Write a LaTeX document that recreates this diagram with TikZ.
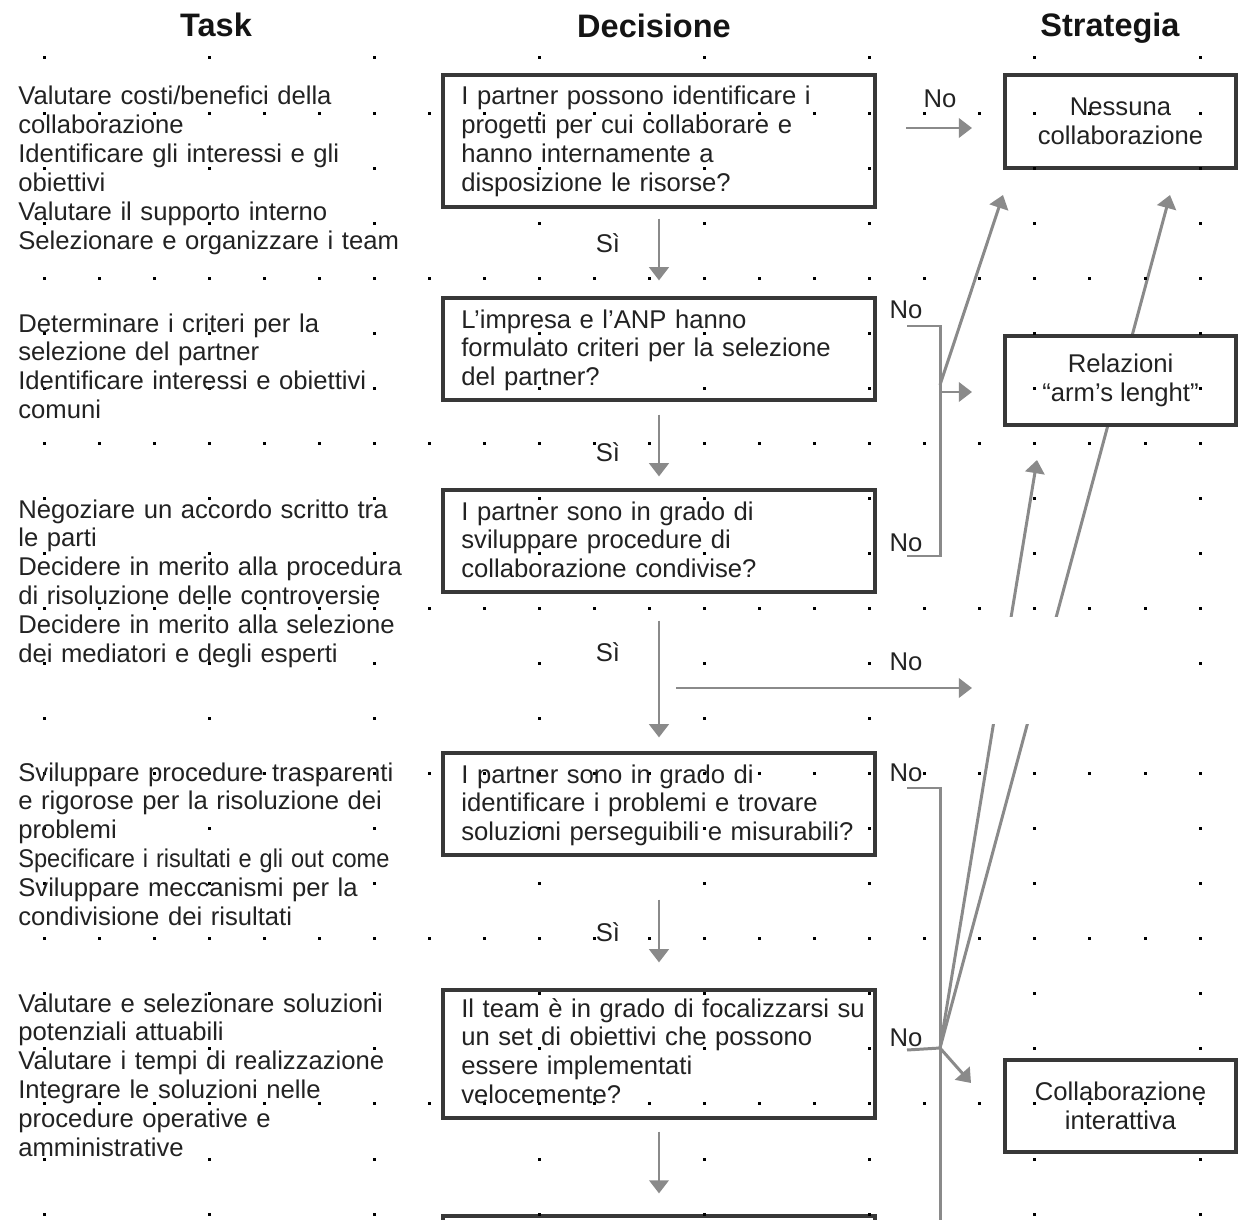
\documentclass[tikz,border=0pt]{standalone}
\usepackage{fontspec}
\setmainfont{Liberation Sans}
\usetikzlibrary{arrows.meta,calc}
\definecolor{txt}{HTML}{222222}
\definecolor{conncol}{HTML}{8A8A8A}
\definecolor{bord}{HTML}{383838}
\def\pxu{0.02cm}
\begin{document}
\begin{tikzpicture}[x=0.02cm,y=-0.02cm,
  body/.style={font=\fontsize{14.6}{16.44}\selectfont, text=txt, inner sep=0pt, anchor=base west, align=left, text width=10cm},
  lab/.style={font=\fontsize{14.6}{16.44}\selectfont, text=txt, inner sep=0pt},
  stxt/.style={font=\fontsize{14.6}{16.44}\selectfont, text=txt, align=center},
  hdr/.style={font=\bfseries\fontsize{18.5}{22}\selectfont, text=black!92, inner sep=0pt, anchor=base},
  dbox/.style={draw=bord, line width=1.8pt, fill=white, inner sep=0pt},
  conn/.style={draw=conncol, line width=1.7pt},
  arr/.style={conn, -{Triangle[length=7.5pt,width=11pt]}},
  dot/.style={fill=black}
]
\useasboundingbox (0,0) rectangle (1238,1220);
\clip (0,0) rectangle (1238,1220);

% coordinates for connectors
\coordinate (n1a) at (906,128);
\coordinate (n1b) at (972,128);
\coordinate (br2a) at (907,326);
\coordinate (br2c) at (907,556);
\coordinate (br2v) at (940,392);
\coordinate (br2t) at (972,392);
\coordinate (br2d) at (940,385);
\coordinate (s1tipA) at (1003,195);
\coordinate (n3a) at (676,688);
\coordinate (n3b) at (972,688);
\coordinate (br4a) at (907,788);
\coordinate (br4k) at (940,788);
\coordinate (br4end) at (940,1240);
\coordinate (br5a) at (907,1050);
\coordinate (hub) at (940,1048);
\coordinate (s3tip) at (971,1083);
\coordinate (s2tip) at (1037,460);
\coordinate (s1tipB) at (1170,195);

% connectors
\draw[arr] (hub) -- (s2tip);
\draw[arr] (hub) -- (s1tipB);
\draw[arr] (hub) -- (s3tip);
\draw[conn] (br5a) -- (hub);
\draw[conn] (br4a) -- (br4k) -- (br4end);
\draw[arr] (n3a) -- (n3b);
\draw[conn] (br2a) -| (br2c -| br2v) -- (br2c);
\draw[arr] (br2v) -- (br2t);
\draw[arr] (br2d) -- (s1tipA);
\draw[arr] (n1a) -- (n1b);

% decision boxes
\node[dbox, minimum width=432*\pxu, minimum height=132*\pxu] (b1) at (659,141) {};
\node[dbox, minimum width=432*\pxu, minimum height=102*\pxu] (b2) at (659,349) {};
\node[dbox, minimum width=432*\pxu, minimum height=102*\pxu] (b3) at (659,541) {};
\node[dbox, minimum width=432*\pxu, minimum height=102*\pxu] (b4) at (659,804) {};
\node[dbox, minimum width=432*\pxu, minimum height=128*\pxu] (b5) at (659,1054) {};
\node[dbox, minimum width=432*\pxu, minimum height=104*\pxu] (b6) at (659,1268) {};

% strategy boxes
\node[dbox, minimum width=231*\pxu, minimum height=93*\pxu] (s1) at (1120.5,121.5) {};
\node[dbox, minimum width=231*\pxu, minimum height=89*\pxu] (s2) at (1120.5,380.5) {};
\node[dbox, minimum width=231*\pxu, minimum height=92*\pxu] (s3) at (1120.5,1106) {};

% yes arrows
\draw[arr, shorten <=10*\pxu, shorten >=16*\pxu] (b1.south) -- (b2.north);
\draw[arr, shorten <=13*\pxu, shorten >=12*\pxu] (b2.south) -- (b3.north);
\draw[arr, shorten <=27*\pxu, shorten >=14*\pxu] (b3.south) -- (b4.north);
\draw[arr, shorten <=43*\pxu, shorten >=26*\pxu] (b4.south) -- (b5.north);
\draw[arr, shorten <=12*\pxu, shorten >=21*\pxu] (b5.south) -- (b6.north);

% dotted grid
\foreach \j in {1,4,...,19} {\foreach \i in {0,...,21} {\fill[dot] ({44+55.05*\i-1.5},{58+55.05*\j-1.5}) rectangle ++(3,3);}}
\foreach \i in {0,3,...,21} {\foreach \j in {0,...,21} {\fill[dot] ({44+55.05*\i-1.5},{58+55.05*\j-1.5}) rectangle ++(3,3);}}

% blank area
\fill[white] (975,617) rectangle (1215,724);
\fill[dot] ({44+55.05*21-1.5},{58+55.05*11-1.5}) rectangle ++(3,3);

% headers
\node[hdr] (hTask) at (216,37) {Task};
\node[hdr] (hDec) at (654,38) {Decisione};
\node[hdr] (hStr) at (1110,37) {Strategia};

% task texts
\node[body] (t1) at (18,105) {Valutare costi/benefici della\\collaborazione\\Identificare gli interessi e gli\\obiettivi\\Valutare il supporto interno\\Selezionare e organizzare i team};
\node[body] (t2) at (18,332) {Determinare i criteri per la\\selezione del partner\\Identificare interessi e obiettivi\\comuni};
\node[body] (t3) at (18,518) {Negoziare un accordo scritto tra\\le parti\\Decidere in merito alla procedura\\di risoluzione delle controversie\\Decidere in merito alla selezione\\dei mediatori e degli esperti};
\node[body] (t4) at (18,781) {Sviluppare procedure trasparenti\\e rigorose per la risoluzione dei\\problemi\\\scalebox{0.92}[1]{Specificare i risultati e gli out come}\\Sviluppare meccanismi per la\\condivisione dei risultati};
\node[body] (t5) at (18,1012) {Valutare e selezionare soluzioni\\potenziali attuabili\\Valutare i tempi di realizzazione\\Integrare le soluzioni nelle\\procedure operative e\\amministrative};

% decision texts
\node[body] (q1) at (461,105) {I partner possono identificare i\\progetti per cui collaborare e\\hanno internamente a\\disposizione le risorse?};
\node[body] (q2) at (461,328) {L’impresa e l’ANP hanno\\formulato criteri per la selezione\\del partner?};
\node[body] (q3) at (461,520) {I partner sono in grado di\\sviluppare procedure di\\collaborazione condivise?};
\node[body] (q4) at (461,783) {I partner sono in grado di\\identificare i problemi e trovare\\soluzioni perseguibili e misurabili?};
\node[body] (q5) at (461,1017) {Il team è in grado di focalizzarsi su\\un set di obiettivi che possono\\essere implementati\\velocemente?};

% strategy texts
\node[stxt] at (s1) {Nessuna\\collaborazione};
\node[stxt] at (s2) {Relazioni\\“arm’s lenght”};
\node[stxt] at (s3) {Collaborazione\\interattiva};

% labels
\node[lab] (si1) at (608,243) {Sì};
\node[lab] (si2) at (608,452) {Sì};
\node[lab] (si3) at (608,652) {Sì};
\node[lab] (si4) at (608,932) {Sì};
\node[lab] (no1) at (940,99) {No};
\node[lab] (no2) at (906,310) {No};
\node[lab] (no3) at (906,543) {No};
\node[lab] (no4) at (906,662) {No};
\node[lab] (no5) at (906,773) {No};
\node[lab] (no6) at (906,1038) {No};
\end{tikzpicture}
\end{document}
